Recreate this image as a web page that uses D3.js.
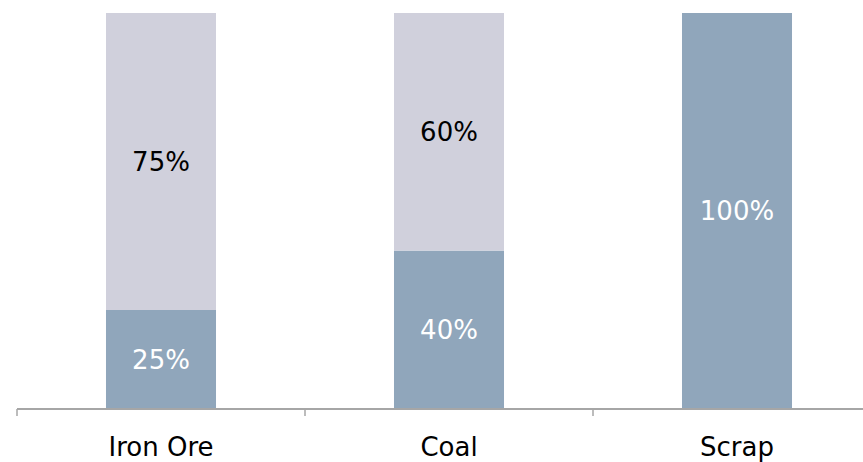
<!DOCTYPE html>
<html>
<head>
<meta charset="utf-8">
<script src="https://cdn.jsdelivr.net/npm/d3@7"></script>
<style>
  html, body { margin: 0; padding: 0; background: #ffffff; }
  svg { display: block; }
  text { font-family: Verdana, "DejaVu Sans", sans-serif; }
</style>
</head>
<body>
<svg id="chart" width="863" height="462"></svg>
<script>
// Share of each raw material by source (fractions of 1)
const categories = ["Iron Ore", "Coal", "Scrap"];
const lowerShare = [0.25, 0.40, 1.00];
const upperShare = [0.75, 0.60, 0.00];
const lowerLabels = ["25%", "40%", "100%"];
const upperLabels = ["75%", "60%", ""];

const width = 863, height = 462;
const baseY = 409, topY = 13;
const pad = 0.618;
const fontSize = 26;

const svg = d3.select("#chart");

const x = d3.scaleBand()
  .domain(categories)
  .range([17, 881])
  .paddingInner(pad)
  .paddingOuter(pad / 2);

const y = d3.scaleLinear().domain([0, 1]).range([baseY, topY]);

const rows = categories.map((c, i) => ({
  cat: c,
  low: lowerShare[i],
  high: upperShare[i],
  lowLabel: lowerLabels[i],
  highLabel: upperLabels[i]
}));

const g = svg.append("g");

// lower (dark) segment
g.selectAll("rect.low").data(rows).join("rect")
  .attr("class", "low")
  .attr("x", d => x(d.cat))
  .attr("width", x.bandwidth())
  .attr("y", d => y(d.low))
  .attr("height", d => y(0) - y(d.low))
  .attr("fill", "#90a6bb");

// upper (light) segment
g.selectAll("rect.high").data(rows.filter(d => d.high > 0)).join("rect")
  .attr("class", "high")
  .attr("x", d => x(d.cat))
  .attr("width", x.bandwidth())
  .attr("y", d => y(d.low + d.high))
  .attr("height", d => y(d.low) - y(d.low + d.high))
  .attr("fill", "#d0d0dc");

// segment labels
g.selectAll("text.low").data(rows).join("text")
  .attr("class", "low")
  .attr("x", d => x(d.cat) + x.bandwidth() / 2)
  .attr("y", d => (y(0) + y(d.low)) / 2)
  .attr("text-anchor", "middle")
  .attr("dominant-baseline", "central")
  .attr("font-size", fontSize)
  .attr("fill", "#ffffff")
  .text(d => d.lowLabel);

g.selectAll("text.high").data(rows.filter(d => d.high > 0)).join("text")
  .attr("class", "high")
  .attr("x", d => x(d.cat) + x.bandwidth() / 2)
  .attr("y", d => (y(d.low) + y(d.low + d.high)) / 2)
  .attr("text-anchor", "middle")
  .attr("dominant-baseline", "central")
  .attr("font-size", fontSize)
  .attr("fill", "#000000")
  .text(d => d.highLabel);

// category axis
const axis = svg.append("g")
  .attr("transform", `translate(0,${baseY})`)
  .call(d3.axisBottom(x).tickSize(0).tickPadding(29));
axis.select(".domain").attr("stroke", "#a6a6a6").attr("stroke-width", 2)
  .attr("d", `M${x.range()[0]},0H${x.range()[1]}`);
axis.selectAll(".tick text")
  .attr("font-size", fontSize)
  .attr("fill", "#000000")
  .attr("font-family", "Verdana, 'DejaVu Sans', sans-serif");

// tick marks at the category boundaries
const bounds = categories.map(c => x(c) - x.step() * pad / 2).concat([x.range()[1]]);
axis.selectAll("line.bound").data(bounds).join("line")
  .attr("class", "bound")
  .attr("x1", d => d).attr("x2", d => d)
  .attr("y1", 0).attr("y2", 7)
  .attr("stroke", "#a6a6a6")
  .attr("stroke-width", 1.5);
</script>
</body>
</html>
